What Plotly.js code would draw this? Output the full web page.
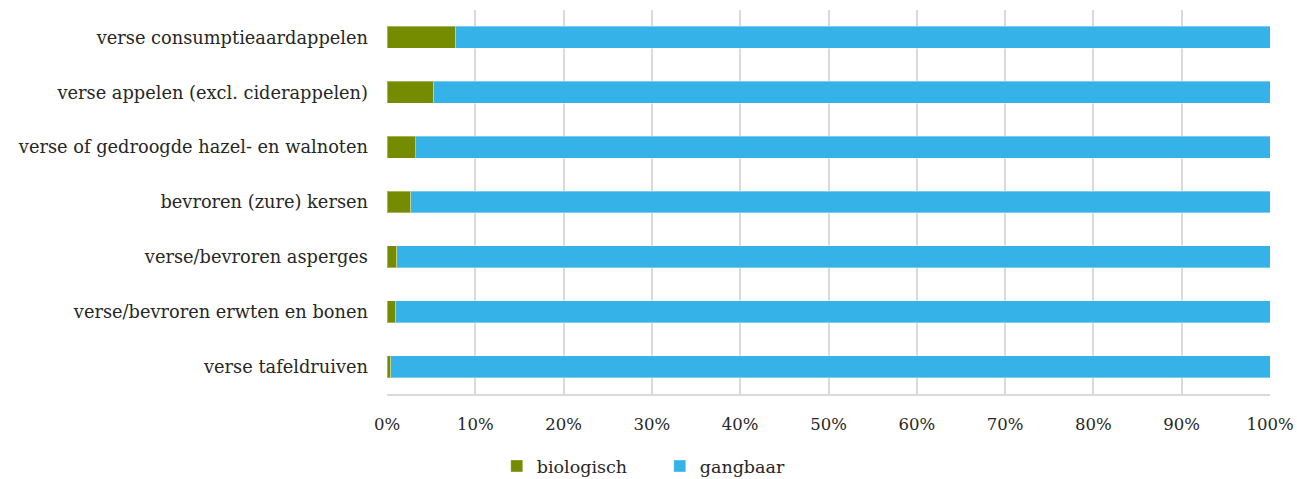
<!DOCTYPE html>
<html>
<head>
<meta charset="utf-8">
<script src="https://cdn.plot.ly/plotly-3.0.1.min.js"></script>
<style>html,body{margin:0;padding:0;background:#fff;}#chart{width:1297px;height:479px;}</style>
</head>
<body>
<div id="chart"></div>
<script>
const categories = [
  "verse consumptieaardappelen",
  "verse appelen (excl. ciderappelen)",
  "verse of gedroogde hazel- en walnoten",
  "bevroren (zure) kersen",
  "verse/bevroren asperges",
  "verse/bevroren erwten en bonen",
  "verse tafeldruiven"
];
const biologisch = [0.078, 0.053, 0.032, 0.027, 0.011, 0.010, 0.004];
const gangbaar = [0.922, 0.947, 0.968, 0.973, 0.989, 0.990, 0.996];
const seriesNames = ["biologisch", "gangbaar"];
const tickVals = [0,0.1,0.2,0.3,0.4,0.5,0.6,0.7,0.8,0.9,1.0];

const font = "DejaVu Serif";
const traces = [
  {type:'bar', orientation:'h', name:seriesNames[0], y:categories, x:biologisch,
   marker:{color:'#768C00', line:{color:'rgba(255,255,255,0.35)', width:1}}, hoverinfo:'none'},
  {type:'bar', orientation:'h', name:seriesNames[1], y:categories, x:gangbaar,
   marker:{color:'#35B2E8', line:{color:'rgba(255,255,255,0.35)', width:1}}, hoverinfo:'none'}
];
const layout = {
  width:1297, height:479,
  margin:{l:387, r:27, t:10, b:85, autoexpand:false},
  barmode:'stack', bargap:0.6,
  paper_bgcolor:'#fff', plot_bgcolor:'#fff',
  font:{family:font, size:16, color:'#262626'},
  xaxis:{range:[0,1], tickvals:tickVals, tickformat:'.0%', showgrid:true, gridcolor:'#dadada', gridwidth:2,
         zeroline:false, showline:true, linecolor:'#dadada', linewidth:2, ticks:'', ticklabelstandoff:14,
         tickfont:{size:16.5}, fixedrange:true},
  yaxis:{autorange:'reversed', showline:false, showgrid:false, ticks:'', ticklabelstandoff:18,
         tickfont:{size:17.8}, fixedrange:true},
  legend:{orientation:'h', xref:'container', yref:'container', x:0.383, xanchor:'left', y:0.027, yanchor:'middle',
          entrywidth:118, itemwidth:30, traceorder:'normal', font:{size:17.5}},
  showlegend:true
};
Plotly.newPlot('chart', traces, layout, {displayModeBar:false, staticPlot:true});
</script>
</body>
</html>
